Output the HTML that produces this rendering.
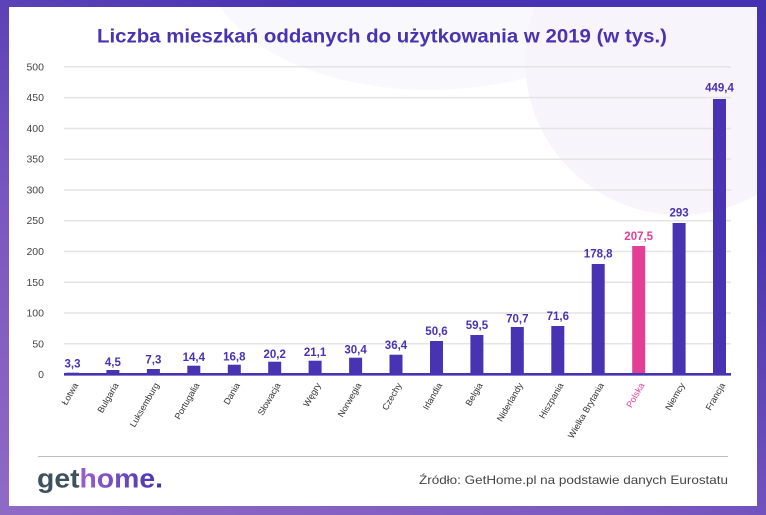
<!DOCTYPE html>
<html><head><meta charset="utf-8"><style>
html,body{margin:0;padding:0;}
body{width:766px;height:515px;overflow:hidden;background:linear-gradient(25deg,#8f6ac5 0%,#7a58bf 35%,#4833b2 75%,#4532b2 100%);position:relative;}
svg{position:absolute;left:0;top:0;}
</style></head><body>
<svg width="766" height="515" viewBox="0 0 766 515" xmlns="http://www.w3.org/2000/svg" font-family="'Liberation Sans', sans-serif">
<defs>
<linearGradient id="hg" gradientUnits="userSpaceOnUse" x1="80" y1="0" x2="160" y2="0">
<stop offset="0" stop-color="#9c5fca"/><stop offset="1" stop-color="#4633b1"/>
</linearGradient>
<clipPath id="wc"><rect x="9" y="7" width="748" height="499"/></clipPath>
</defs>
<rect x="9" y="7" width="748" height="499" fill="#ffffff"/>
<g clip-path="url(#wc)">
<ellipse cx="430" cy="-40" rx="225" ry="130" fill="#f9f8fc"/>
<circle cx="680" cy="60" r="155" fill="#f7f5fb"/>
</g>
<text x="97" y="42.5" font-size="19" font-weight="bold" fill="#4833b2" textLength="570" lengthAdjust="spacingAndGlyphs">Liczba mieszkań oddanych do użytkowania w 2019 (w tys.)</text>
<g stroke="#e4e4e4" stroke-width="1.5">
<line x1="64" x2="731" y1="66.8" y2="66.8"/>
<line x1="64" x2="731" y1="97.6" y2="97.6"/>
<line x1="64" x2="731" y1="128.5" y2="128.5"/>
<line x1="64" x2="731" y1="159.2" y2="159.2"/>
<line x1="64" x2="731" y1="190" y2="190"/>
<line x1="64" x2="731" y1="220.7" y2="220.7"/>
<line x1="64" x2="731" y1="251.5" y2="251.5"/>
<line x1="64" x2="731" y1="282.3" y2="282.3"/>
<line x1="64" x2="731" y1="313" y2="313"/>
<line x1="64" x2="731" y1="343.8" y2="343.8"/>
</g>
<g font-size="10.5" fill="#444" text-anchor="end">
<text x="44" y="70.3">500</text>
<text x="44" y="101.1">450</text>
<text x="44" y="132">400</text>
<text x="44" y="162.7">350</text>
<text x="44" y="193.5">300</text>
<text x="44" y="224.2">250</text>
<text x="44" y="255">200</text>
<text x="44" y="285.8">150</text>
<text x="44" y="316.5">100</text>
<text x="44" y="347.3">50</text>
<text x="44" y="378">0</text>
</g>
<g fill="#4833b2">
<rect x="66" y="372.7" width="13" height="1.6"/>
<rect x="106.4" y="370" width="13" height="4.3"/>
<rect x="146.9" y="369" width="13" height="5.3"/>
<rect x="187.3" y="365.7" width="13" height="8.6"/>
<rect x="227.8" y="364.7" width="13" height="9.6"/>
<rect x="268.2" y="361.7" width="13" height="12.6"/>
<rect x="308.6" y="360.7" width="13" height="13.6"/>
<rect x="349.1" y="357.7" width="13" height="16.6"/>
<rect x="389.5" y="354.7" width="13" height="19.6"/>
<rect x="430" y="341" width="13" height="33.3"/>
<rect x="470.4" y="335" width="13" height="39.3"/>
<rect x="510.8" y="327" width="13" height="47.3"/>
<rect x="551.3" y="326" width="13" height="48.3"/>
<rect x="591.7" y="264" width="13" height="110.3"/>
<rect x="672.6" y="223" width="13" height="151.3"/>
<rect x="713" y="99" width="13" height="275.3"/>
</g>
<rect x="632.2" y="246" width="13" height="128.3" fill="#e33f97"/>
<line x1="64" x2="731" y1="374.3" y2="374.3" stroke="#4833b2" stroke-width="2.6"/>
<g font-size="11.5" font-weight="bold" fill="#4833b2" text-anchor="middle">
<text x="72.5" y="367.7">3,3</text>
<text x="112.9" y="366">4,5</text>
<text x="153.4" y="363.7">7,3</text>
<text x="193.8" y="361">14,4</text>
<text x="234.3" y="360.5">16,8</text>
<text x="274.7" y="358">20,2</text>
<text x="315.1" y="356">21,1</text>
<text x="355.6" y="353.3">30,4</text>
<text x="396" y="349">36,4</text>
<text x="436.5" y="335">50,6</text>
<text x="476.9" y="329">59,5</text>
<text x="517.3" y="322.3">70,7</text>
<text x="557.8" y="320">71,6</text>
<text x="598.2" y="257.7">178,8</text>
<text x="679.1" y="216.7">293</text>
<text x="719.5" y="91.7">449,4</text>
</g>
<text x="638.7" y="240" font-size="11.5" font-weight="bold" fill="#e33f97" text-anchor="middle">207,5</text>
<g font-size="9" fill="#333" text-anchor="end">
<text transform="translate(78.5,385) rotate(-60)">Łotwa</text>
<text transform="translate(118.9,385) rotate(-60)">Bulgaria</text>
<text transform="translate(159.4,385) rotate(-60)">Luksemburg</text>
<text transform="translate(199.8,385) rotate(-60)">Portugalia</text>
<text transform="translate(240.3,385) rotate(-60)">Dania</text>
<text transform="translate(280.7,385) rotate(-60)">Słowacja</text>
<text transform="translate(321.1,385) rotate(-60)">Węgry</text>
<text transform="translate(361.6,385) rotate(-60)">Norwegia</text>
<text transform="translate(402,385) rotate(-60)">Czechy</text>
<text transform="translate(442.5,385) rotate(-60)">Irlandia</text>
<text transform="translate(482.9,385) rotate(-60)">Belgia</text>
<text transform="translate(523.3,385) rotate(-60)">Niderlandy</text>
<text transform="translate(563.8,385) rotate(-60)">Hiszpania</text>
<text transform="translate(604.2,385) rotate(-60)">Wielka Brytania</text>
<text transform="translate(644.7,385) rotate(-60)" fill="#e33f97">Polska</text>
<text transform="translate(685.1,385) rotate(-60)">Niemcy</text>
<text transform="translate(725.5,385) rotate(-60)">Francja</text>
</g>
<line x1="38" x2="728" y1="456.5" y2="456.5" stroke="#bdbdbd" stroke-width="1"/>
<text x="37" y="487.5" font-size="27" font-weight="bold" textLength="126" lengthAdjust="spacingAndGlyphs"><tspan fill="#3e515d">get</tspan><tspan fill="url(#hg)">home</tspan><tspan fill="#4633b1">.</tspan></text>
<text x="419" y="484" font-size="12" fill="#444" textLength="309" lengthAdjust="spacingAndGlyphs">Źródło: GetHome.pl na podstawie danych Eurostatu</text>
</svg>
</body></html>
